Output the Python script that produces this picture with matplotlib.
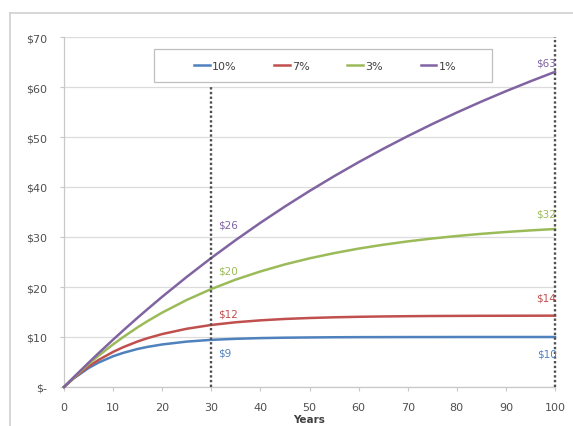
import matplotlib
matplotlib.use("Agg")
import matplotlib.pyplot as plt
from matplotlib.patches import Rectangle
from matplotlib.lines import Line2D

# ---- data ----
years = [0, 2, 5, 7, 10, 12, 15, 17, 20, 25, 30, 35, 40, 45, 50, 55, 60, 65, 70, 75, 80, 85, 90, 95, 100]
series_names = ["10%", "7%", "3%", "1%"]
v10 = [0, 1.74, 3.79, 4.87, 6.15, 6.81, 7.61, 8.02, 8.51, 9.08, 9.43, 9.64, 9.78, 9.86, 9.91, 9.95, 9.97, 9.98, 9.99, 9.99, 10.00, 10.00, 10.00, 10.00, 10.00]
v7 = [0, 1.81, 4.10, 5.39, 7.02, 7.94, 9.11, 9.76, 10.59, 11.65, 12.41, 12.95, 13.33, 13.61, 13.80, 13.94, 14.04, 14.11, 14.16, 14.20, 14.22, 14.24, 14.25, 14.26, 14.27]
v3 = [0, 1.91, 4.58, 6.23, 8.53, 9.95, 11.94, 13.17, 14.88, 17.41, 19.60, 21.49, 23.11, 24.52, 25.73, 26.77, 27.68, 28.45, 29.12, 29.70, 30.20, 30.63, 31.00, 31.32, 31.60]
v1 = [0, 1.97, 4.85, 6.73, 9.47, 11.26, 13.87, 15.56, 18.05, 22.02, 25.81, 29.41, 32.84, 36.10, 39.20, 42.15, 44.96, 47.63, 50.17, 52.59, 54.89, 57.08, 59.16, 61.14, 63.03]
marker_years = [30, 100]
marker_tops = [60, 70]
x_ticks = [0, 10, 20, 30, 40, 50, 60, 70, 80, 90, 100]
y_ticks = [0, 10, 20, 30, 40, 50, 60, 70]
y_tick_labels = ["$-", "$10", "$20", "$30", "$40", "$50", "$60", "$70"]

colors = ["#4F81BD", "#C0504D", "#9BBB59", "#8064A2"]
all_vals = [v10, v7, v3, v1]

W, H = 573, 427
fig = plt.figure(figsize=(W / 100, H / 100), dpi=100)
plt.rcParams['font.family'] = ['DejaVu Sans']

# outer chart border (cropped Excel chart area)
fig.add_artist(Line2D([10 / W, 10 / W], [0, 1 - 14 / H], transform=fig.transFigure, color="#D0D0D0", lw=1.2))
fig.add_artist(Line2D([10 / W, 1], [1 - 14 / H, 1 - 14 / H], transform=fig.transFigure, color="#D0D0D0", lw=1.2))

left, right, top, bottom = 64, 555, 38, 388
ax = fig.add_axes([left / W, 1 - bottom / H, (right - left) / W, (bottom - top) / H])
ax.set_xlim(0, 100)
ax.set_ylim(0, 70)

for s in ["top", "right"]:
    ax.spines[s].set_visible(False)
for s in ["left", "bottom"]:
    ax.spines[s].set_color("#C8C8C8")
    ax.spines[s].set_linewidth(0.9)

ax.set_yticks(y_ticks)
ax.set_yticklabels(y_tick_labels)
ax.set_xticks(x_ticks)
ax.yaxis.grid(True, color="#DCDCDC", lw=0.9)
ax.set_axisbelow(True)
ax.tick_params(axis="both", length=3, color="#C8C8C8", labelsize=8, labelcolor="#505050")
ax.tick_params(axis="y", pad=9)
ax.tick_params(axis="x", pad=8)
ax.set_xlabel("Years", fontsize=7.5, fontweight="bold", color="#404040", labelpad=1)

for name, vals, c in zip(series_names, all_vals, colors):
    ax.plot(years, vals, color=c, lw=1.8, label=name, zorder=3, clip_on=False)

for xm, ym in zip(marker_years, marker_tops):
    ax.vlines(xm, 0, ym, colors="#505050", linestyles=(0, (1, 1)), lw=1.7, zorder=4, clip_on=False)

# data labels
off30 = [-9, 8, 13, 24]
off100 = [-12, 13, 11, 7]
for vals, c, o30, o100 in zip(all_vals, colors, off30, off100):
    i30 = years.index(30)
    i100 = years.index(100)
    ax.annotate(f"${round(vals[i30])}", xy=(30, vals[i30]), xytext=(5, o30), textcoords="offset points",
                ha="left", va="center", fontsize=7.5, color=c, zorder=5)
    ax.annotate(f"${round(vals[i100])}", xy=(100, vals[i100]), xytext=(1, o100), textcoords="offset points",
                ha="right", va="center", fontsize=7.5, color=c, zorder=5, annotation_clip=False)

# legend box
fig.add_artist(Rectangle((154 / W, 1 - 83 / H), (492 - 154) / W, (83 - 50) / H, transform=fig.transFigure,
                         facecolor="white", edgecolor="#BFBFBF", lw=0.9, zorder=2))
handles, labels = ax.get_legend_handles_labels()
leg = fig.legend(handles, labels, loc="center", bbox_to_anchor=(325 / W, 1 - 66.5 / H), ncol=4,
                 frameon=False, fontsize=8, handlelength=1.4, handletextpad=0.2, columnspacing=3.4,
                 labelcolor="#404040")
leg.set_zorder(6)

fig.savefig("out.png", dpi=100)
